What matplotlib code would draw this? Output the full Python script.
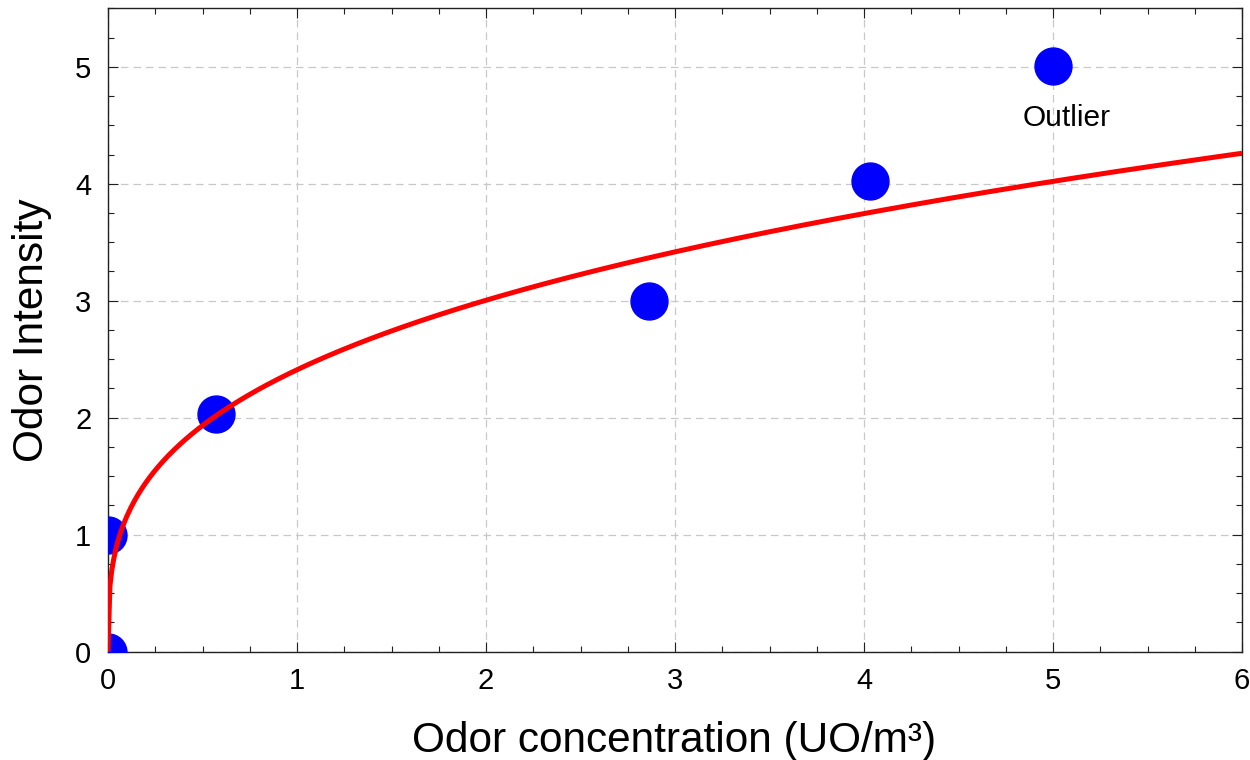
import matplotlib
matplotlib.use('Agg')
import matplotlib.pyplot as plt
import numpy as np
from matplotlib.ticker import MultipleLocator

plt.rcParams['font.family'] = ['Liberation Sans', 'DejaVu Sans']

# measured points
conc = [0.0, 0.0, 0.572, 2.86, 4.034, 5.0]
intensity = [0.0, 1.0, 2.03, 3.0, 4.025, 5.01]

# power law fit  I = a * C^b
fit_a = 2.41
fit_b = 0.318

x_ticks = [0, 1, 2, 3, 4, 5, 6]
y_ticks = [0, 1, 2, 3, 4, 5]

fig = plt.figure(figsize=(12.5, 7.6), dpi=100)
ax = fig.add_axes([0.0864, 0.1425, 0.9072, 0.8466])

ax.grid(True, which='major', color='#c8c8c8', linestyle=(0, (6, 4)), linewidth=0.9)
ax.set_axisbelow(True)

ax.plot(conc, intensity, 'o', color='#0000ff', markersize=26.6, zorder=3)

xs = np.linspace(0, 6, 600)
ax.plot(xs, fit_a * xs ** fit_b, color='#ff0000', linewidth=3.6, zorder=4,
        solid_capstyle='butt')

ax.text(5.07, 4.56, 'Outlier', fontsize=21.5, ha='center', va='center')

ax.set_xlim(0, 6)
ax.set_ylim(0, 5.5)
ax.set_xticks(x_ticks)
ax.set_yticks(y_ticks)
ax.xaxis.set_minor_locator(MultipleLocator(0.25))
ax.yaxis.set_minor_locator(MultipleLocator(0.25))

ax.tick_params(which='both', direction='in', top=True, right=True,
               width=0.8, color='#202020')
ax.tick_params(which='major', length=7, labelsize=21)
ax.tick_params(which='minor', length=4)
ax.tick_params(axis='y', which='major', pad=12)
ax.tick_params(axis='x', which='major', pad=11)

for sp in ax.spines.values():
    sp.set_linewidth(1.0)
    sp.set_color('#202020')

ax.set_xlabel('Odor concentration (UO/m³)', fontsize=30.5)
ax.set_ylabel('Odor Intensity', fontsize=30.5)
ax.xaxis.set_label_coords(0.499, -0.107)
ax.yaxis.set_label_coords(-0.049, 0.5)

fig.savefig('out.png', dpi=100)
